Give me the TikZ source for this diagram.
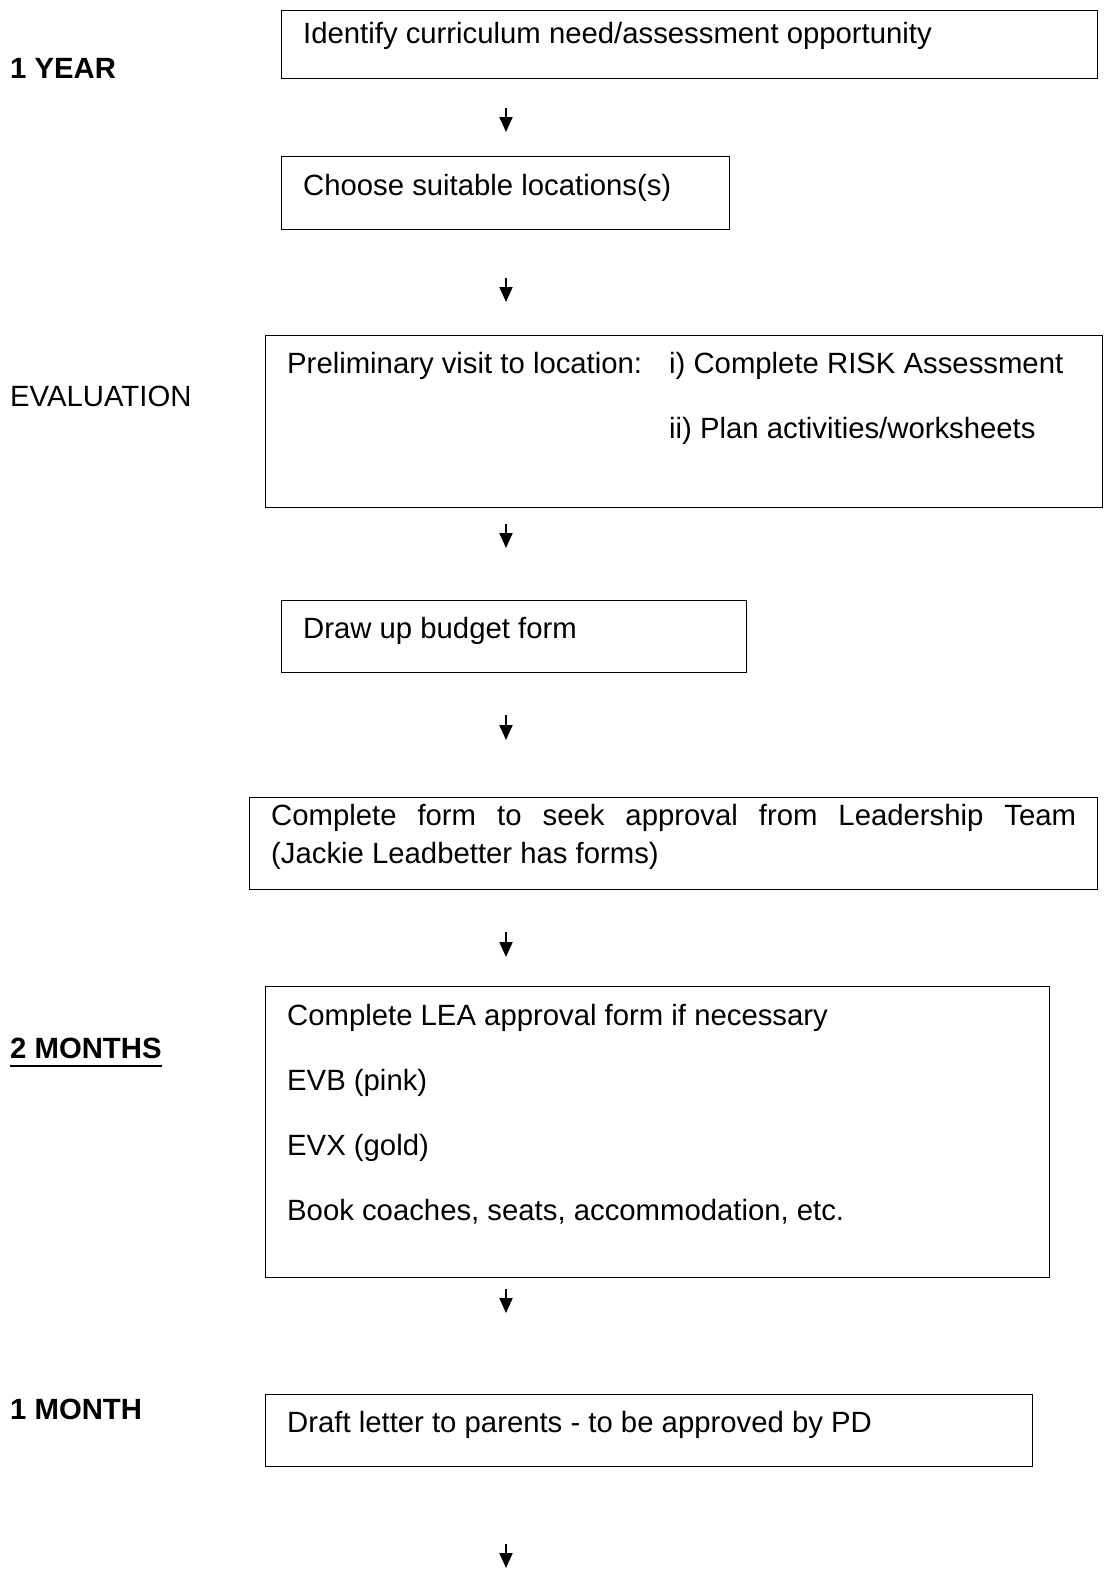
\documentclass[tikz,border=0pt]{standalone}
\usepackage{fontspec}
\setmainfont{Liberation Sans}
\usepackage{tikz}
\usetikzlibrary{arrows.meta, positioning, calc}

\tikzset{
  stepbox/.style={draw, line width=1.3pt, anchor=north west, inner sep=0pt},
  txt/.style={anchor=base west, inner sep=0pt, font=\fontsize{29.3}{38}\selectfont},
  lbl/.style={anchor=base west, inner sep=0pt, font=\fontsize{29.3}{34}\selectfont\bfseries},
  flow/.style={line width=2pt, -{Triangle[width=13pt,length=15pt]}}
}

\begin{document}
\begin{tikzpicture}[x=1pt,y=-1pt]
      \useasboundingbox (0,0) rectangle (1104,1571);

      % boxes
      \node[stepbox, minimum width=816, minimum height=68] (ident) at (281,10) {};
      \node[stepbox, minimum width=448, minimum height=73] (choose) at (281,156) {};
      \node[stepbox, minimum width=837, minimum height=172] (visit) at (265,335) {};
      \node[stepbox, minimum width=465, minimum height=72] (budget) at (281,600) {};
      \node[stepbox, minimum width=848, minimum height=92] (approve) at (249,797) {};
      \node[stepbox, minimum width=784, minimum height=291] (lea) at (265,986) {};
      \node[stepbox, minimum width=767, minimum height=72] (letter) at (265,1394) {};

      % texts
      \node[txt] (identT) at (303,43.5) {Identify curriculum need/assessment opportunity};
      \node[txt] (chooseT) at (303,195.5) {Choose suitable locations(s)};
      \node[txt] (visitT) at (287,373.5) {Preliminary visit to location:};
      \node[txt] (riskT) at (669,373.5) {i) Complete RISK Assessment};
      \node[txt] (planT) at (669,438.5) {ii) Plan activities/worksheets};
      \node[txt] (budgetT) at (303,638.5) {Draw up budget form};
      \node[txt, anchor=north west, text width=805, align=justify] (approveT) at (271,804)
        {Complete form to seek approval from Leadership Team\linebreak (Jackie Leadbetter has forms)};
      \node[txt, font=\fontsize{29.3}{65}\selectfont, anchor=north west, align=left] (leaT) at (287,1004)
        {Complete LEA approval form if necessary\\EVB (pink)\\EVX (gold)\\Book coaches, seats, accommodation, etc.};
      \node[txt] (letterT) at (287,1432.5) {Draft letter to parents - to be approved by PD};

      % time labels
      \node[lbl] (year) at (10,78.5) {1 YEAR};
      \node[txt] (eval) at (10,406.5) {EVALUATION};
      \node[lbl] (twomonths) at (10,1058.5) {2 MONTHS};
      \draw[line width=2.8pt] ($(twomonths.base west)+(0,7.5)$) -- ($(twomonths.base east)+(0,7.5)$);
      \node[lbl] (month) at (10,1419.5) {1 MONTH};

      % arrows
      \coordinate (a1) at (506,108);  \coordinate (b1) at (506,132);
      \coordinate (a2) at (506,278);  \coordinate (b2) at (506,302);
      \coordinate (a3) at (506,524);  \coordinate (b3) at (506,548);
      \coordinate (a4) at (506,715);  \coordinate (b4) at (506,740);
      \coordinate (a5) at (506,932);  \coordinate (b5) at (506,957);
      \coordinate (a6) at (506,1289); \coordinate (b6) at (506,1313);
      \coordinate (a7) at (506,1544); \coordinate (b7) at (506,1568);
      \draw[flow] (a1) -- (b1);
      \draw[flow] (a2) -- (b2);
      \draw[flow] (a3) -- (b3);
      \draw[flow] (a4) -- (b4);
      \draw[flow] (a5) -- (b5);
      \draw[flow] (a6) -- (b6);
      \draw[flow] (a7) -- (b7);
\end{tikzpicture}
\end{document}
